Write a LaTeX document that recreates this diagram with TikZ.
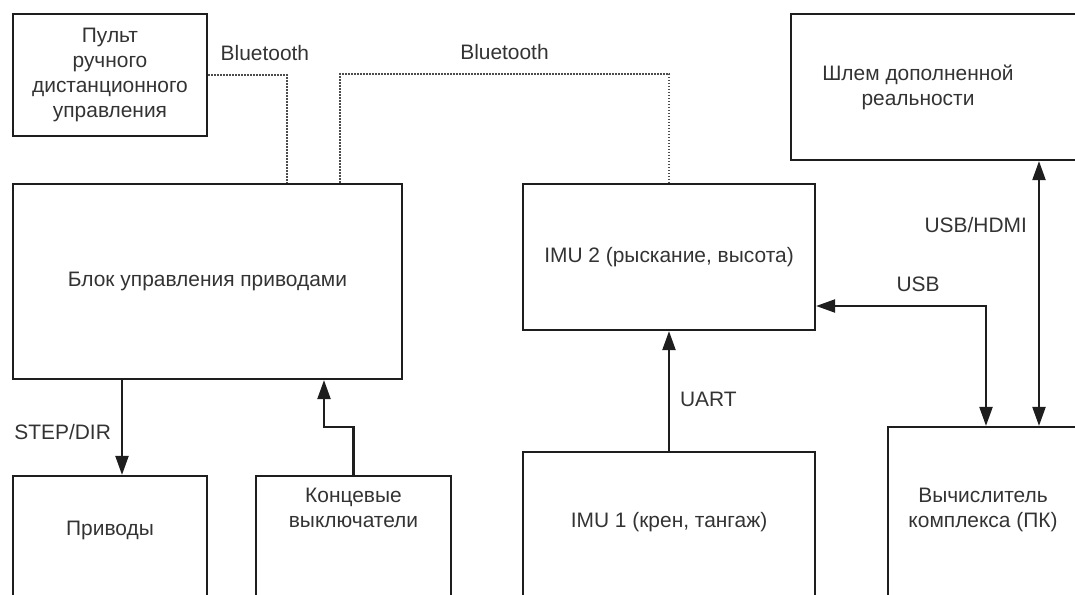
\documentclass[tikz,border=0pt]{standalone}
\usepackage{fontspec}
\setmainfont{Liberation Sans}
\usetikzlibrary{arrows.meta,positioning}
\definecolor{ink}{RGB}{51,51,51}
\definecolor{edge}{RGB}{30,30,30}
\tikzset{
  blk/.style={draw=edge,line width=2.2bp,inner sep=0pt,align=center,text=ink,font=\fontsize{21}{25}\selectfont},
  txt/.style={align=center,text=ink,inner sep=0pt,font=\fontsize{21}{25}\selectfont},
  lab/.style={txt},
  link/.style={-{Triangle[length=19bp,width=13bp]},line width=2.2bp,draw=edge},
  duplex/.style={{Triangle[length=19bp,width=13bp]}-{Triangle[length=19bp,width=13bp]},line width=2.2bp,draw=edge},
  radio/.style={line width=1.7bp,draw=black!70,dash pattern=on 1.5bp off 1.5bp}
}

\begin{document}
\begin{tikzpicture}[x=1bp,y=-1bp]
  \useasboundingbox (0,0) rectangle (1075,595);
  \clip (0,0) rectangle (1075,595);
  % boxes
  \node[blk,minimum width=194bp,minimum height=122bp] (pult) at (110,75) {Пульт\\ ручного\\ дистанционного\\ управления};
  \node[blk,minimum width=389bp,minimum height=195bp] (blok) at (207.5,281.5) {Блок управления приводами};
  \node[blk,minimum width=194bp,minimum height=170bp] (privody) at (110,561) {};
  \node[txt] (privodyT) at (110,530) {Приводы};
  \node[blk,minimum width=195bp,minimum height=170bp] (konc) at (353.5,561) {};
  \node[txt] (koncT) at (353.5,508) {Концевые\\ выключатели};
  \node[blk,minimum width=292bp,minimum height=146bp] (imu2) at (669,257) {IMU 2 (рыскание, высота)};
  \node[blk,minimum width=292bp,minimum height=190bp] (imu1) at (669,547) {};
  \node[txt] (imu1T) at (669,522) {IMU 1 (крен, тангаж)};
  \node[blk,minimum width=320bp,minimum height=146bp] (shlem) at (951,87) {};
  \node[txt] (shlemT) at (918,87) {Шлем дополненной\\ реальности};
  \node[blk,minimum width=222bp,minimum height=214bp] (pk) at (999,534) {};
  \node[txt] (pkT) at (983,510) {Вычислитель\\ комплекса (ПК)};
  % links
  \draw[radio] (pult.east) -| node[pos=0.36,above=13bp,lab]{Bluetooth} (blok.north -| 287,0);
  \draw[radio] (blok.north -| 340,0) -- ++(0,-109) -| node[pos=0.25,above=13bp,lab]{Bluetooth} (imu2.north);
  \draw[link] (blok.south -| 122,0) -- node[pos=0.55,left=10bp,lab]{STEP/DIR} (privody.north -| 122,0);
  \draw[link] (konc.north) -- ++(0,-48) -| (blok.south -| 324,0);
  \draw[link] (imu1.north) -- node[pos=0.43,right=10bp,lab]{UART} (imu2.south);
  \draw[duplex] (imu2.east |- 0,306) -| node[pos=0.3,above=13bp,lab]{USB} (pk.north -| 986,0);
  \draw[duplex] (shlem.south -| 1039,0) -- node[pos=0.24,left=11bp,lab]{USB/HDMI} (pk.north -| 1039,0);
\end{tikzpicture}
\end{document}
